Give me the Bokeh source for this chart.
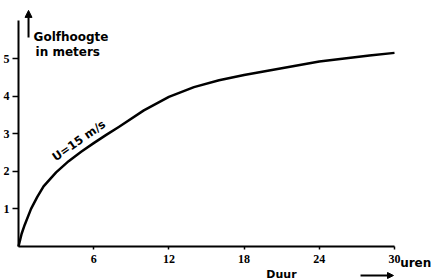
from bokeh.plotting import figure
from bokeh.models import Label, Arrow, NormalHead, Range1d, FixedTicker, LinearAxis
from bokeh.embed import file_html
from bokeh.resources import INLINE

# Data
duur_uren = [0, 0.25, 0.5, 1, 1.5, 2, 3, 4, 5, 6, 7, 8, 10, 12, 14, 16, 18, 20, 22, 24, 26, 28, 30]
golfhoogte_m = [0, 0.34, 0.58, 1.0, 1.32, 1.6, 1.97, 2.27, 2.52, 2.75, 2.97, 3.18, 3.62, 3.98, 4.24, 4.42,
                4.56, 4.68, 4.8, 4.92, 5.0, 5.08, 5.15]
x_ticks = [6, 12, 18, 24, 30]
y_ticks = [1, 2, 3, 4, 5]
curve_label = "U=15 m/s"
y_title = ["Golfhoogte", "in meters"]
x_title = "Duur"
x_unit = "uren"

FONT = "DejaVu Sans"
TICKFONT = "Liberation Sans Narrow"

p = figure(width=441, height=280,
           min_border_left=0, min_border_right=0, min_border_top=0, min_border_bottom=0,
           x_range=Range1d(-1.436, 33.75), y_range=Range1d(-0.904, 6.543),
           x_axis_location=None, y_axis_location=None,
           output_backend="svg", toolbar_location=None)
p.outline_line_color = None
p.grid.visible = False
p.background_fill_color = "white"
p.border_fill_color = "white"

xax = LinearAxis(fixed_location=0, bounds=(0, 30), ticker=FixedTicker(ticks=x_ticks))
yax = LinearAxis(fixed_location=0, bounds=(0, 6.01), ticker=FixedTicker(ticks=y_ticks))
for ax in (xax, yax):
    ax.axis_line_width = 2
    ax.axis_line_color = "black"
    ax.major_tick_line_color = "black"
    ax.major_tick_line_width = 1.5
    ax.major_tick_in = 0
    ax.minor_tick_line_color = None
    ax.major_label_text_font = TICKFONT
    ax.major_label_text_font_style = "bold"
    ax.major_label_text_font_size = "12px"
    ax.major_label_text_color = "black"
xax.major_tick_out = 3
xax.major_label_standoff = 5
yax.major_tick_out = 6
yax.major_label_standoff = 3
p.add_layout(xax, "below")
p.add_layout(yax, "left")

p.line(duur_uren, golfhoogte_m, line_width=2.5, line_color="black", line_join="round")

def lab(x, y, text, size="11px", align="left", baseline="alphabetic", angle=0):
    l = Label(x=x, y=y, text=text, text_font=FONT, text_font_style="bold",
              text_font_size=size, text_color="black", text_align=align,
              text_baseline=baseline, angle=angle, angle_units="deg")
    p.add_layout(l)

lab(4.81, 2.82, curve_label, size="11.5px", align="center", baseline="middle", angle=35)
lab(1.2, 5.56, y_title[0], size="12px")
lab(1.36, 5.16, y_title[1], size="12px")
lab(30.45, -0.426, x_unit, size="12px", baseline="middle")
lab(20.98, -0.745, x_title, size="11px", align="center", baseline="middle")

p.add_layout(Arrow(end=NormalHead(size=7, fill_color="black", line_color="black"),
                   x_start=0.8, y_start=5.56, x_end=0.8, y_end=6.28,
                   line_width=2, line_color="black"))
p.add_layout(Arrow(end=NormalHead(size=6, fill_color="black", line_color="black"),
                   x_start=27.29, y_start=-0.771, x_end=29.92, y_end=-0.771,
                   line_width=2, line_color="black"))

open("out.html", "w").write(file_html(p, INLINE))
